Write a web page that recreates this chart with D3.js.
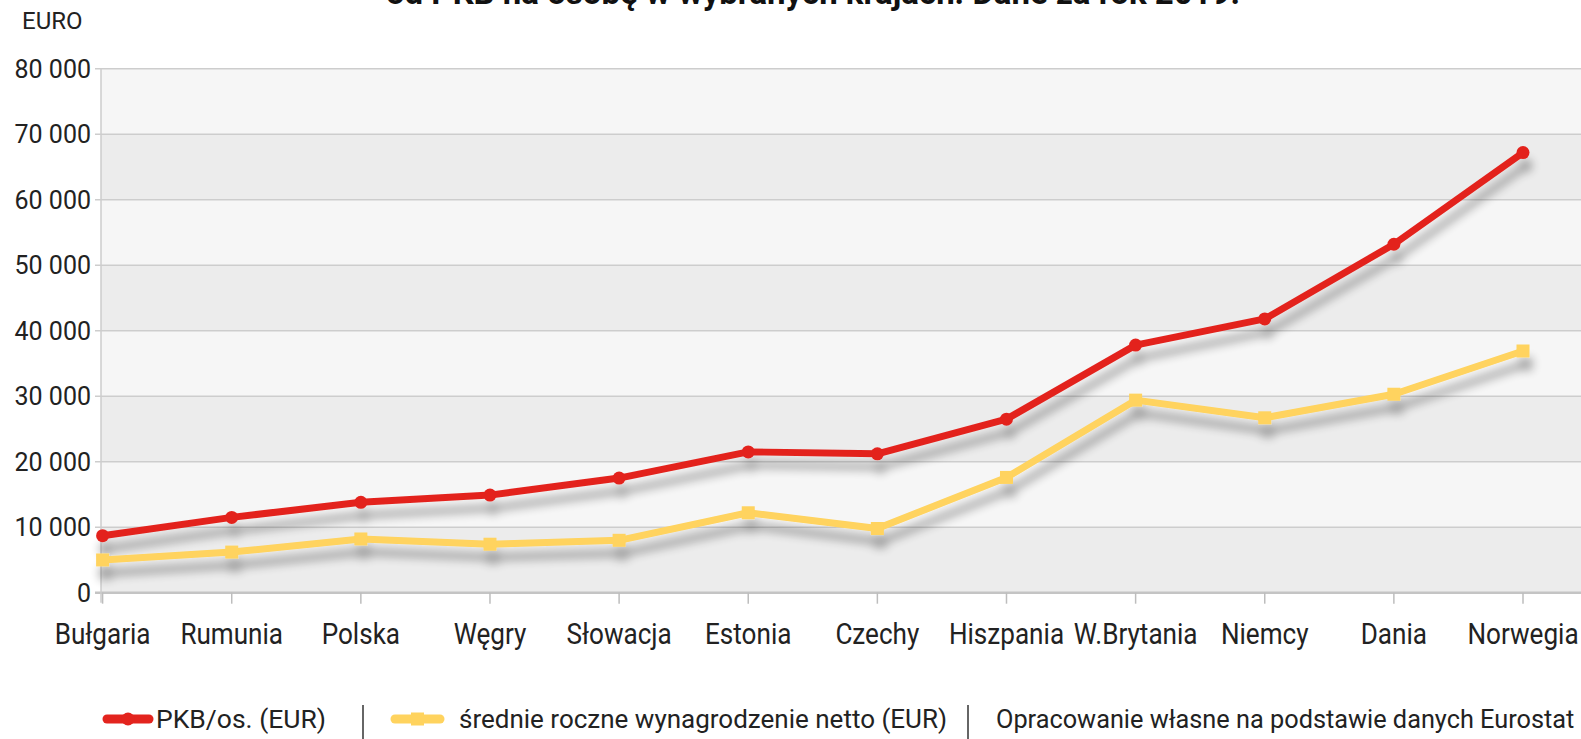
<!DOCTYPE html>
<html><head><meta charset="utf-8">
<script src="https://cdn.jsdelivr.net/npm/d3@7"></script>
<style>
html,body{margin:0;padding:0;background:#fff;overflow:hidden;}
svg{display:block;font-family:Roboto,"Noto Sans",sans-serif;}
</style></head>
<body>
<svg id="chart" width="1581" height="739"></svg>
<script>
const categories = ["Bułgaria","Rumunia","Polska","Węgry","Słowacja","Estonia","Czechy","Hiszpania","W.Brytania","Niemcy","Dania","Norwegia"];
const gdpPerCapita = [8700, 11500, 13800, 14900, 17500, 21500, 21200, 26500, 37800, 41800, 53200, 67200];
const netSalary = [5000, 6200, 8200, 7400, 8000, 12200, 9800, 17600, 29400, 26700, 30300, 36900];
const yTicks = [0, 10000, 20000, 30000, 40000, 50000, 60000, 70000, 80000];
const seriesNames = ["PKB/os. (EUR)", "średnie roczne wynagrodzenie netto (EUR)"];
const sourceNote = "Opracowanie własne na podstawie danych Eurostat";
const titleText = "od PKB na osobę w wybranych krajach. Dane za rok 2019.";
const yUnit = "EURO";

const W = 1581, H = 739;
const plotLeft = 101, plotRight = 1581, plotTop = 68.7, plotBottom = 592.7;
const red = "#e3241e", yellow = "#ffd35e";

const svg = d3.select("#chart");
const defs = svg.append("defs");
const f = defs.append("filter").attr("id","shadow").attr("x","-10%").attr("y","-20%").attr("width","130%").attr("height","160%");
f.append("feGaussianBlur").attr("in","SourceAlpha").attr("stdDeviation",5).attr("result","b");
f.append("feOffset").attr("in","b").attr("dx",3).attr("dy",13).attr("result","o");
f.append("feComponentTransfer").attr("in","o").attr("result","s")
  .append("feFuncA").attr("type","linear").attr("slope",0.32);
const m = f.append("feMerge");
m.append("feMergeNode").attr("in","s");
m.append("feMergeNode").attr("in","SourceGraphic");

const x = d3.scalePoint().domain(categories).range([102.6, 1523]);
const y = d3.scaleLinear().domain([0, 80000]).range([plotBottom, plotTop]);

// title (second line of the original title; cut off at the top edge as in the source image)
svg.append("text").attr("x", 813).attr("y", 4).attr("text-anchor","middle")
  .attr("font-weight","bold").attr("font-size",33).attr("fill","#111").text(titleText);

// unit
svg.append("text").attr("x", 22).attr("y", 29).attr("font-size",24).attr("fill","#222").text(yUnit);

// bands
const bands = d3.pairs(yTicks);
svg.append("g").selectAll("rect").data(bands).join("rect")
  .attr("x", plotLeft).attr("width", plotRight - plotLeft)
  .attr("y", d => y(d[1])).attr("height", d => y(d[0]) - y(d[1]))
  .attr("fill", (d,i) => i % 2 === 0 ? "#ececec" : "#f6f6f6");

// grid lines
svg.append("g").selectAll("line").data(yTicks).join("line")
  .attr("x1", plotLeft - 6).attr("x2", plotRight)
  .attr("y1", d => y(d)).attr("y2", d => y(d))
  .attr("stroke", d => d === 0 ? "#c4c4c4" : "#cdcdcd").attr("stroke-width", d => d === 0 ? 2.5 : 1.5);

// y axis line
svg.append("line").attr("x1", plotLeft).attr("x2", plotLeft).attr("y1", plotTop).attr("y2", plotBottom + 10)
  .attr("stroke","#cdcdcd").attr("stroke-width",1.5);

// y tick labels
const fmt = v => d3.format(",")(v).replace(/,/g, " ");
svg.append("g").selectAll("text").data(yTicks).join("text")
  .attr("x", 91).attr("y", d => y(d) + 9).attr("text-anchor","end")
  .attr("font-size",25).attr("fill","#222").text(fmt);

// x ticks
svg.append("g").selectAll("line").data(categories).join("line")
  .attr("x1", d => x(d)).attr("x2", d => x(d))
  .attr("y1", plotBottom).attr("y2", plotBottom + 11)
  .attr("stroke","#bdbdbd").attr("stroke-width",1.5);

// x labels
svg.append("g").selectAll("text").data(categories).join("text")
  .attr("transform", d => `translate(${x(d)},${644}) scale(0.87,1)`)
  .attr("text-anchor","middle").attr("font-size",30).attr("fill","#222").text(d => d);

// lines
const line = d3.line().x((d,i) => x(categories[i])).y(d => y(d));
const g = svg.append("g").attr("filter","url(#shadow)");
g.append("path").datum(netSalary).attr("d", line).attr("fill","none")
  .attr("stroke", yellow).attr("stroke-width",7).attr("stroke-linejoin","round");
g.selectAll("rect.m").data(netSalary).join("rect").attr("class","m")
  .attr("x",(d,i) => x(categories[i]) - 6.5).attr("y", d => y(d) - 6.5)
  .attr("width",13).attr("height",13).attr("fill",yellow);
g.append("path").datum(gdpPerCapita).attr("d", line).attr("fill","none")
  .attr("stroke", red).attr("stroke-width",7).attr("stroke-linejoin","round");
g.selectAll("circle.m").data(gdpPerCapita).join("circle").attr("class","m")
  .attr("cx",(d,i) => x(categories[i])).attr("cy", d => y(d)).attr("r",6.5).attr("fill",red);

// legend
const ly = 723;
const lg = svg.append("g");
lg.append("line").attr("x1",107).attr("x2",149).attr("y1",ly-4).attr("y2",ly-4)
  .attr("stroke",red).attr("stroke-width",9).attr("stroke-linecap","round");
lg.append("circle").attr("cx",128).attr("cy",ly-4).attr("r",6.5).attr("fill",red);
lg.append("text").attr("x",156).attr("y",ly+5).attr("font-size",26.5).attr("fill","#222").text(seriesNames[0]);
lg.append("line").attr("x1",363).attr("x2",363).attr("y1",705).attr("y2",739).attr("stroke","#333").attr("stroke-width",1.5);
lg.append("line").attr("x1",395).attr("x2",440).attr("y1",ly-4).attr("y2",ly-4)
  .attr("stroke",yellow).attr("stroke-width",9).attr("stroke-linecap","round");
lg.append("rect").attr("x",411).attr("y",ly-10.5).attr("width",13).attr("height",13).attr("fill",yellow);
lg.append("text").attr("x",459).attr("y",ly+5).attr("font-size",26).attr("fill","#222").text(seriesNames[1]);
lg.append("line").attr("x1",968).attr("x2",968).attr("y1",705).attr("y2",739).attr("stroke","#333").attr("stroke-width",1.5);
lg.append("text").attr("x",996).attr("y",ly+5).attr("font-size",25.3).attr("fill","#222").text(sourceNote);
</script>
</body></html>
